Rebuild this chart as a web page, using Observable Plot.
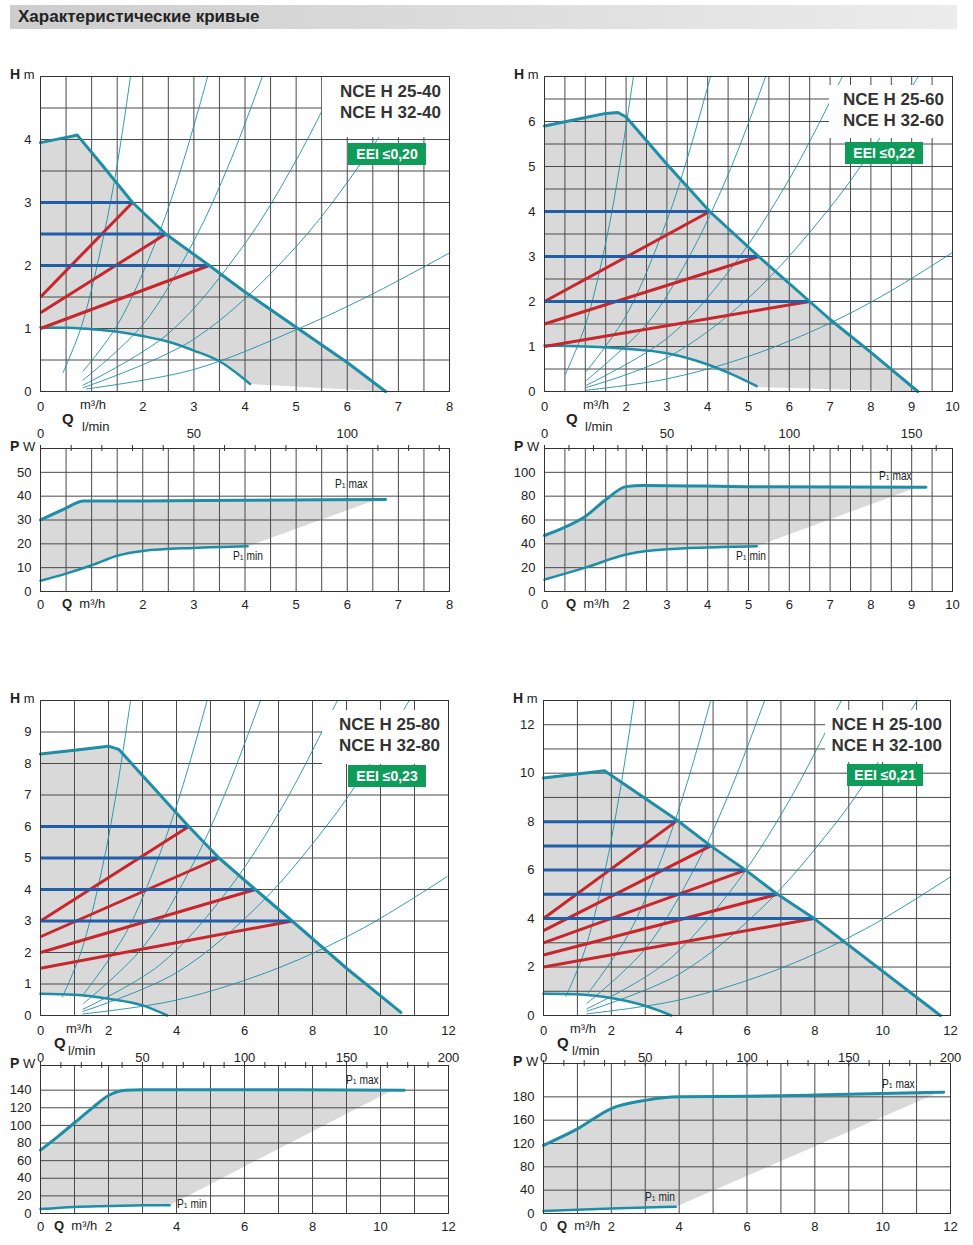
<!DOCTYPE html>
<html><head><meta charset="utf-8">
<script src="https://cdn.jsdelivr.net/npm/d3@7"></script>
<script src="https://cdn.jsdelivr.net/npm/@observablehq/plot@0.6"></script>
<style>
body{margin:0;background:#fff;font-family:"Liberation Sans",Arial,sans-serif;}
#root{position:relative;width:973px;height:1245px;overflow:hidden;}
.abs{position:absolute;white-space:nowrap;color:#222;}
svg{position:absolute;overflow:visible;}
.model{position:absolute;background:#fff;font-weight:bold;font-size:17px;text-align:right;line-height:21px;padding:4px 8px 0 0;box-sizing:border-box;color:#333;}
.eei{position:absolute;background:#0f9b5a;color:#fff;font-weight:bold;font-size:14px;text-align:center;line-height:22px;}
</style></head>
<body><div id="root"></div>
<script>
// ---------- DATA ----------
const title = "Характеристические кривые";
const models = [["NCE H 25-40","NCE H 32-40"],["NCE H 25-60","NCE H 32-60"],["NCE H 25-80","NCE H 32-80"],["NCE H 25-100","NCE H 32-100"]];
const eei = ["EEI ≤0,20","EEI ≤0,22","EEI ≤0,23","EEI ≤0,21"];

// Panel 1 (25-40)
const p1HMax = [[0,3.95],[0.6,4.05],[0.72,4.07],[1.2,3.6],[1.8,3.0],[2.45,2.5],[3.3,2.0],[4,1.58],[5,1.02],[6,0.46],[6.75,0]];
const p1HMin = [[0,1.02],[0.5,1.01],[1,0.99],[1.5,0.95],[2,0.88],[2.5,0.79],[3,0.65],[3.5,0.48],[4.1,0.12]];
const p1HLow = [[6.75,0],[4.1,0.12]];
const p1Ctrl = [{h:3,q:1.8,h0:1.5},{h:2.5,q:2.45,h0:1.25},{h:2,q:3.3,h0:1.0}];
const p1Sys = [
 [[0.44,0.3],[0.8,1.03],[1.23,2.45],[1.5,3.6],[1.76,5]],
 [[0.83,0.32],[1.5,1.05],[2.3,2.47],[2.8,3.67],[3.27,5]],
 [[0.83,0.18],[2,1.06],[3,2.39],[3.7,3.63],[4.34,5]],
 [[0.83,0.1],[2.5,0.92],[4,2.35],[5,3.67],[5.84,5]],
 [[0.83,0.06],[3,0.83],[5,2.3],[6.59,4],[7.37,5]],
 [[0.9,0.04],[3,0.35],[5,0.98],[6.5,1.55],[8,2.2]]
];
const p1PMax = [[0,30],[0.45,34.5],[0.85,38],[2,38],[4,38.3],[6.75,38.6]];
const p1PMin = [[0,4.5],[0.5,7.5],[1,11],[1.5,15],[2,17],[3,18.3],[4.05,19]];
const p1PCorner = [[6.5,38.4],[6.5,38]];

// Panel 2 (25-60)
const p2HMax = [[0,5.9],[0.8,6.05],[1.5,6.18],[1.8,6.2],[2,6.1],[3,5.05],[4.05,4.0],[5.25,3.0],[6.5,2.0],[7,1.6],[8,0.87],[9.15,0]];
const p2HMin = [[0,1.02],[1,1.0],[2,0.95],[3,0.85],[4,0.6],[4.6,0.38],[5.2,0.12]];
const p2HLow = [[9.15,0],[5.2,0.1]];
const p2Ctrl = [{h:4,q:4.05,h0:2},{h:3,q:5.25,h0:1.5},{h:2,q:6.5,h0:1.0}];
const p2Sys = [
 [[0.51,0.38],[1,1.47],[1.5,3.3],[1.85,5.04],[2.18,7]],
 [[1.03,0.45],[2,1.69],[3,3.8],[3.5,5.18],[4.07,7]],
 [[1.03,0.25],[2.5,1.49],[3.5,2.92],[4.5,4.82],[5.42,7]],
 [[1.03,0.14],[3,1.18],[4.5,2.65],[6,4.72],[7.3,7]],
 [[1.03,0.09],[3,0.75],[5,2.08],[7,4.09],[8.24,5.66],[9.16,7]],
 [[1.03,0.03],[3,0.28],[5,0.78],[7,1.52],[8.5,2.24],[10,3.09]]
];
const p2PMax = [[0,47],[0.5,54],[1,63],[1.5,77],[2,88],[2.4,89],[5,88],[9.35,87.5]];
const p2PMin = [[0,10],[1,20],[2,31],[2.5,34],[3,35.5],[4,37],[5.2,38]];
const p2PCorner = [[9.1,87.6],[9.1,87]];

// Panel 3 (25-80)
const p3HMax = [[0,8.3],[1,8.42],[2,8.55],[2.3,8.45],[4.36,6],[5.25,5],[6.32,4],[7.4,3],[9,1.5],[10.6,0.1]];
const p3HMin = [[0,0.69],[1,0.66],[2,0.53],[3,0.32],[3.73,0]];
const p3HLow = [[10.6,0],[3.73,0]];
const p3Ctrl = [{h:6,q:4.36,h0:3},{h:5,q:5.25,h0:2.5},{h:4,q:6.32,h0:2},{h:3,q:7.4,h0:1.5}];
const p3Sys = [
 [[0.64,0.58],[1.2,2.04],[1.8,4.6],[2.2,6.87],[2.65,10]],
 [[1.25,0.65],[2.5,2.6],[3.5,5.1],[4.2,7.34],[4.9,10]],
 [[1.25,0.37],[3,2.15],[4.5,4.84],[5.5,7.23],[6.47,10]],
 [[1.25,0.2],[3.5,1.6],[5.5,3.96],[7.2,6.79],[8.73,10]],
 [[1.25,0.13],[4,1.36],[6.5,3.59],[8.5,6.14],[9.36,7.45],[10.85,10]],
 [[1.25,0.05],[4,0.49],[7,1.51],[9.5,2.78],[11.96,4.41]]
];
const p3PMax = [[0,72],[0.5,87],[1,103],[1.5,119],[2,134],[2.5,140],[3,140.5],[6,140.5],[10.7,140]];
const p3PMin = [[0,5],[1,7.5],[2,8.5],[3,9.5],[3.8,9.5]];
const p3PCorner = [[10.3,140.2],[10.3,139]];

// Panel 4 (25-100)
const p4HMax = [[0,9.8],[1.8,10.1],[3.9,8.1],[4.93,7],[5.96,6],[6.9,5],[7.98,4],[11.7,0]];
const p4HMin = [[0,0.9],[1,0.88],[2,0.72],[2.97,0.41],[3.77,0]];
const p4HLow = [[11.7,0],[3.77,0]];
const p4Ctrl = [{h:8,q:3.9,h0:4},{h:7,q:4.93,h0:3.5},{h:6,q:5.96,h0:3},{h:5,q:6.9,h0:2.5},{h:4,q:7.98,h0:2}];
const p4Sys = [
 [[0.66,0.79],[1.2,2.62],[1.8,5.9],[2.25,9.21],[2.67,13]],
 [[1.32,0.93],[2.5,3.34],[3.5,6.55],[4.2,9.44],[4.93,13]],
 [[1.28,0.5],[3,2.75],[4.5,6.2],[5.5,9.26],[6.52,13]],
 [[1.28,0.28],[3.5,2.07],[5.5,5.11],[7.2,8.76],[8.78,13]],
 [[1.28,0.18],[4,1.71],[6.5,4.52],[8.5,7.73],[9.4,9.45],[11.02,13]],
 [[1.28,0.07],[4,0.64],[7,1.95],[9.5,3.58],[12,5.72]]
];
const p4PMax = [[0,117],[1,145],[2,170],[3,177],[4,180],[6,180.5],[8,181.5],[11.8,184]];
const p4PMin = [[0,4.5],[2,8.5],[3.9,11.5]];
const p4PCorner = [[11.6,183.8],[11.6,183]];
const p4PTicks = [0,40,80,120,160,180];

// ---------- DRAWING ----------
const root = document.getElementById("root");
const TEAL = "#1e8ea6", BLUE = "#1f5ea8", RED = "#c9262c", GRID = "#4a4a4a", SHADE = "#d9d9d9";
const STYLE = {fontFamily:'"Liberation Sans",Arial,sans-serif', fontSize:"13px", color:"#222", background:"transparent"};
const X = d=>d[0], Y = d=>d[1];
const LMIN = 0.06; // m3/h per l/min

function addText(txt, left, top, css="") {
  const d = document.createElement("div"); d.className="abs"; d.style.cssText=`left:${left}px;top:${top}px;${css}`;
  d.innerHTML = txt; root.appendChild(d);
}
function place(svg, left, top){ svg.style.left = left+"px"; svg.style.top = top+"px"; root.appendChild(svg); }

function panel(c) {
  const ML=40, MT=12, MR=20, MB=52;
  const shade = [...c.hMax, ...c.hLow, ...c.hMin.slice().reverse()];
  const hPlot = Plot.plot({
    width:c.w+ML+MR, height:c.hH+MT+MB, marginLeft:ML, marginTop:MT, marginRight:MR, marginBottom:MB,
    x:{domain:[0,c.xMax], axis:null}, y:{domain:[0,c.hYMax], axis:null}, style:STYLE,
    marks:[
      Plot.line(shade, {x:X, y:Y, fill:SHADE, stroke:"none"}),
      Plot.ruleX(d3.range(0, c.xMax+1e-9, c.hXGrid), {stroke:GRID, strokeWidth:1}),
      Plot.ruleY(d3.range(0, c.hYMax+1e-9, c.hYGrid), {stroke:GRID, strokeWidth:1}),
      ...c.sys.map(s=>Plot.line(s, {x:X, y:Y, stroke:TEAL, strokeWidth:0.9, curve:"catmull-rom", clip:true})),
      Plot.line(c.hMin, {x:X, y:Y, stroke:TEAL, strokeWidth:2.5, curve:"monotone-x"}),
      Plot.link(c.ctrl, {x1:0, y1:"h0", x2:"q", y2:"h", stroke:RED, strokeWidth:3}),
      Plot.ruleY(c.ctrl, {y:"h", x1:0, x2:"q", stroke:BLUE, strokeWidth:3}),
      Plot.line(c.hMax, {x:X, y:Y, stroke:TEAL, strokeWidth:3, strokeLinejoin:"round"}),
      Plot.frame({stroke:"#333"}),
      Plot.text(c.hYTicks, {x:0, y:d=>d, text:d=>String(d), dx:-9, textAnchor:"end", fontSize:13}),
      Plot.text(c.xTicks, {x:d=>d, y:0, text:d=>String(d), dy:15, fontSize:13}),
      Plot.text(c.lminLabels, {x:d=>d*LMIN, y:0, text:d=>String(d), dy:42, fontSize:13})
    ]
  });
  place(hPlot, c.left-ML, c.hTop-MT);

  const PB = 25;
  const warp = c.warp || (v=>v);
  const pm = c.pMax.map(d=>[d[0], warp(d[1])]);
  const pn = c.pMin.map(d=>[d[0], warp(d[1])]);
  const pc = c.pCorner.map(d=>[d[0], warp(d[1])]);
  const pShade = [...pm.filter(d=>d[0] <= pc[0][0]), ...pc, ...pn.slice().reverse()];
  const pPlot = Plot.plot({
    width:c.w+ML+MR, height:c.pH+MT+PB, marginLeft:ML, marginTop:MT, marginRight:MR, marginBottom:PB,
    x:{domain:[0,c.xMax], axis:null}, y:{domain:[0,c.pYMax], axis:null}, style:STYLE,
    marks:[
      Plot.line(pShade, {x:X, y:Y, fill:SHADE, stroke:"none"}),
      Plot.ruleX(d3.range(0, c.xMax+1e-9, c.pXGrid), {stroke:GRID, strokeWidth:1}),
      Plot.ruleY(c.pYTicks.map(warp), {stroke:GRID, strokeWidth:1}),
      Plot.line(pn, {x:X, y:Y, stroke:TEAL, strokeWidth:2.5, curve:"monotone-x"}),
      Plot.line(pm, {x:X, y:Y, stroke:TEAL, strokeWidth:3, curve:"monotone-x"}),
      Plot.frame({stroke:"#333"}),
      Plot.ruleX(d3.range(0, c.xMax/LMIN, 10), {x:d=>d*LMIN, y1:c.pYMax, y2:c.pYMax, insetTop:-3, insetBottom:-3, stroke:"#333"}),
      Plot.text(c.pYTicks, {x:0, y:d=>warp(d), text:d=>String(d), dx:-9, textAnchor:"end", fontSize:13}),
      Plot.text(c.xTicks.filter(d=>d!==0 || true), {x:d=>d, y:0, text:d=>String(d), dy:13, fontSize:13})
    ]
  });
  place(pPlot, c.left-ML, c.pTop-MT);

  const hBottom = c.hTop + c.hH, pBottom = c.pTop + c.pH;
  addText('<b style="font-size:14px">H</b> m', c.left-30, c.hTop-10, "font-size:13px");
  addText('<b style="font-size:14px">P</b> W', c.left-30, c.pTop-10, "font-size:13px");
  addText('m³/h', c.left+c.mOff, hBottom+6, "font-size:13px");
  addText('<b>Q</b>', c.left+c.qOff, hBottom+19, "font-size:15px");
  addText('l/min', c.left+c.mOff+2, hBottom+28, "font-size:13px");
  addText('<b>Q</b>&nbsp; m³/h', c.left+c.qOff, pBottom+5, "font-size:13px");
  const mb = document.createElement("div"); mb.className="model";
  mb.style.cssText = `left:${c.box[0]}px;top:${c.box[1]}px;width:${c.box[2]}px;height:${c.box[3]}px;`;
  mb.innerHTML = c.model.join("<br>"); root.appendChild(mb);
  const eb = document.createElement("div"); eb.className="eei";
  eb.style.cssText = `left:${c.eeiBox[0]}px;top:${c.eeiBox[1]}px;width:${c.eeiBox[2]}px;height:22px;`;
  eb.textContent = c.eei; root.appendChild(eb);
  addText('P<span style="font-size:8px">1</span> max', c.maxLab[0], c.maxLab[1], "font-size:12px;transform:scaleX(0.85);transform-origin:left;");
  addText('P<span style="font-size:8px">1</span> min', c.minLab[0], c.minLab[1], "font-size:12px;transform:scaleX(0.85);transform-origin:left;");
}

// title
const tb = document.createElement("div");
tb.style.cssText = "position:absolute;left:10px;top:5px;width:947px;height:24px;background:linear-gradient(to right,#cdcdcd,#ececec);font-weight:bold;font-size:17px;line-height:24px;padding-left:8px;box-sizing:border-box;color:#222;";
tb.textContent = title; root.appendChild(tb);

const warp4 = d3.scaleLinear().domain([0,40,80,120,160,180,200]).range([0,1,2,3,4,5,6]);

panel({left:40, w:409, hTop:76, hH:315, xMax:8, hYMax:5, hXGrid:0.5, hYGrid:0.5, hYTicks:[0,1,2,3,4], xTicks:[0,2,3,4,5,6,7,8],
  lminLabels:[0,50,100], hMax:p1HMax, hMin:p1HMin, hLow:p1HLow, ctrl:p1Ctrl, sys:p1Sys,
  pTop:448, pH:143, pYMax:60, pXGrid:0.5, pYTicks:[0,10,20,30,40,50], pMax:p1PMax, pMin:p1PMin, pCorner:p1PCorner,
  mOff:40, qOff:22, model:models[0], box:[322,77,127,60], eei:eei[0], eeiBox:[348,143,78], maxLab:[335,477], minLab:[233,549]});
panel({left:544, w:408, hTop:76, hH:315, xMax:10, hYMax:7, hXGrid:0.5, hYGrid:0.5, hYTicks:[0,1,2,3,4,5,6], xTicks:[0,2,3,4,5,6,7,8,9,10],
  lminLabels:[0,50,100,150], hMax:p2HMax, hMin:p2HMin, hLow:p2HLow, ctrl:p2Ctrl, sys:p2Sys,
  pTop:448, pH:143, pYMax:120, pXGrid:0.5, pYTicks:[0,20,40,60,80,100], pMax:p2PMax, pMin:p2PMin, pCorner:p2PCorner,
  mOff:39, qOff:22, model:models[1], box:[829,85,123,53], eei:eei[1], eeiBox:[845,142,78], maxLab:[879,469], minLab:[736,549]});
panel({left:40, w:408, hTop:700, hH:315, xMax:12, hYMax:10, hXGrid:1, hYGrid:1, hYTicks:[0,1,2,3,4,5,6,7,8,9], xTicks:[0,2,4,6,8,10,12],
  lminLabels:[0,50,100,150,200], hMax:p3HMax, hMin:p3HMin, hLow:p3HLow, ctrl:p3Ctrl, sys:p3Sys,
  pTop:1065, pH:148, pYMax:168, pXGrid:1, pYTicks:[0,20,40,60,80,100,120,140], pMax:p3PMax, pMin:p3PMin, pCorner:p3PCorner,
  mOff:26, qOff:14, model:models[2], box:[322,710,126,54], eei:eei[2], eeiBox:[348,765,78], maxLab:[346,1073], minLab:[177,1197]});
panel({left:543, w:407, hTop:700, hH:315, xMax:12, hYMax:13, hXGrid:1, hYGrid:1, hYTicks:[0,2,4,6,8,10,12], xTicks:[0,2,4,6,8,10,12],
  lminLabels:[0,50,100,150,200], hMax:p4HMax, hMin:p4HMin, hLow:p4HLow, ctrl:p4Ctrl, sys:p4Sys,
  pTop:1063, pH:150, pYMax:6.43, pXGrid:1, pYTicks:p4PTicks, warp:warp4, pMax:p4PMax, pMin:p4PMin, pCorner:p4PCorner,
  mOff:27, qOff:14, model:models[3], box:[825,710,125,52], eei:eei[3], eeiBox:[847,764,76], maxLab:[882,1077], minLab:[645,1190]});
</script></body></html>
